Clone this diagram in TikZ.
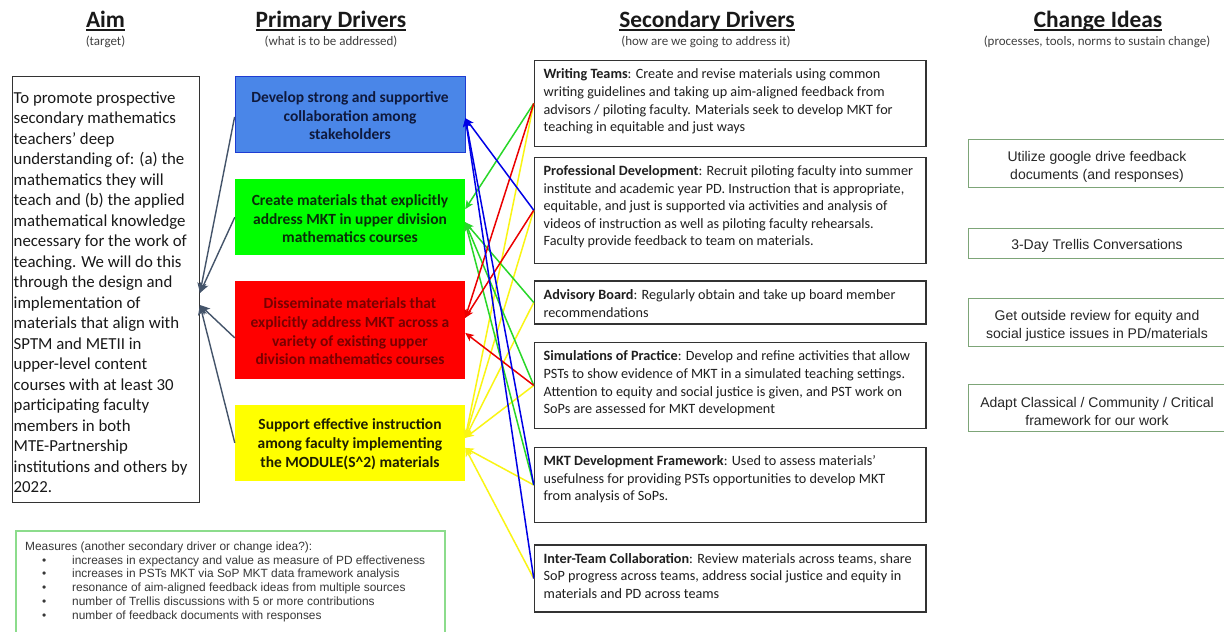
\documentclass[tikz,border=0pt]{standalone}
\usepackage{fontspec}
\setmainfont{Carlito}
\newfontfamily\arialf{Liberation Sans}
\usetikzlibrary{arrows.meta}
\definecolor{slateA}{RGB}{68,84,106}
\definecolor{pblue}{RGB}{74,134,232}
\definecolor{pblueB}{RGB}{30,60,210}
\definecolor{pgreen}{RGB}{0,255,0}
\definecolor{pred}{RGB}{255,0,0}
\definecolor{pyellow}{RGB}{255,255,0}
\definecolor{tblue}{RGB}{15,25,60}
\definecolor{tgreen}{RGB}{10,45,10}
\definecolor{tred}{RGB}{120,0,0}
\definecolor{tyellow}{RGB}{30,30,0}
\definecolor{lnblue}{RGB}{0,0,230}
\definecolor{lngreen}{RGB}{40,215,40}
\definecolor{lnred}{RGB}{235,0,0}
\definecolor{lnyellow}{RGB}{250,245,20}
\definecolor{chgreen}{RGB}{125,165,120}
\definecolor{measgreen}{RGB}{140,220,140}
\newcommand\ulh[1]{\sbox{0}{#1}\rlap{\rule[-3pt]{\wd0}{1.4pt}}\usebox{0}}
\tikzset{
  headT/.style={font=\fontsize{23.4}{28}\selectfont\bfseries, text=black!90, inner sep=0, text height=16pt, text depth=4pt},
  subT/.style={font=\fontsize{13}{15}\selectfont, text=black!75, inner sep=0, text height=10pt, text depth=3pt},
  aimbox/.style={draw=black!80, line width=0.9pt, inner sep=0},
  aimtext/.style={font=\fontsize{16.8}{20.5}\selectfont, align=left, inner sep=0, text=black!90},
  prim/.style={minimum width=230pt, inner sep=0},
  primtext/.style={align=center, inner sep=0, font=\fontsize{15.5}{18.7}\selectfont\bfseries},
  secbox/.style={draw=black!80, line width=1.1pt, minimum width=391.7pt, inner sep=0},
  sectext/.style={font=\fontsize{14.2}{17.6}\selectfont, align=left, inner sep=0, anchor=north west, text=black!88},
  chbox/.style={draw=chgreen, line width=0.9pt, minimum width=258pt, inner sep=0},
  chtext/.style={align=center, inner sep=0, font=\arialf\fontsize{14}{18}\selectfont, text=black!85},
  measbox/.style={draw=measgreen, line width=1.1pt, inner sep=0},
  meastext/.style={font=\arialf\fontsize{11.9}{13.75}\selectfont, align=left, inner sep=0, anchor=north west, text=black!78},
  aimarr/.style={draw=slateA, line width=1.4pt, -{Stealth[length=10pt,width=9pt,inset=2.5pt]}},
  conn/.style={line width=1.5pt, -{Stealth[length=8.5pt,width=7.5pt,inset=2pt]}},
  cb/.style={conn, draw=lnblue},
  cg/.style={conn, draw=lngreen},
  cr/.style={conn, draw=lnred},
  cy/.style={conn, draw=lnyellow},
}
\begin{document}
\begin{tikzpicture}[x=1pt,y=-1pt]
\path[use as bounding box, fill=white] (0,0) rectangle (1224,632);
\clip (0,0) rectangle (1224,632);

% headings
\node[headT] (hAim) at (105.5,21.5) {\ulh{Aim}};
\node[subT] (sAim) at (105.5,42) {(target)};
\node[headT] (hPri) at (331,21.5) {\ulh{Primary Drivers}};
\node[subT] (sPri) at (331,42) {(what is to be addressed)};
\node[headT] (hSec) at (707,21.5) {\ulh{Secondary Drivers}};
\node[subT] (sSec) at (706,42) {(how are we going to address it)};
\node[headT] (hCh) at (1098,21.5) {\ulh{Change Ideas}};
\node[subT] (sCh) at (1097,42) {(processes, tools, norms to sustain change)};

% aim
\node[aimbox, minimum width=187.5pt, minimum height=426pt] (aim) at (105.75,289) {};
\node[aimtext, anchor=west] (aimT) at (13.5,292.5) {To promote prospective\\secondary mathematics\\teachers’ deep\\understanding of: (a) the\\mathematics they will\\teach and (b) the applied\\mathematical knowledge\\necessary for the work of\\teaching. We will do this\\through the design and\\implementation of\\materials that align with\\SPTM and METII in\\upper-level content\\courses with at least 30\\participating faculty\\members in both\\MTE-Partnership\\institutions and others by\\2022.};

% primary drivers
\node[prim, fill=pblue, draw=pblueB, line width=0.8pt, minimum height=76.3pt] (pb) at (350,114.2) {};
\node[primtext, text=tblue] (pbT) at ([yshift=-1.5pt]pb.center) {Develop strong and supportive\\collaboration among\\stakeholders};
\node[prim, fill=pgreen, minimum height=75.7pt] (pg) at (350,217.2) {};
\node[primtext, text=tgreen] (pgT) at ([yshift=-1.5pt]pg.center) {Create materials that explicitly\\address MKT in upper division\\mathematics courses};
\node[prim, fill=pred, minimum height=98.3pt] (pr) at (350,329.9) {};
\node[primtext, text=tred] (prT) at ([yshift=-1.5pt]pr.center) {Disseminate materials that\\explicitly address MKT across a\\variety of existing upper\\division mathematics courses};
\node[prim, fill=pyellow, minimum height=75.7pt] (py) at (350,442.9) {};
\node[primtext, text=tyellow] (pyT) at ([yshift=-1.5pt]py.center) {Support effective instruction\\among faculty implementing\\the MODULE(S\^{}2) materials};

% secondary drivers
\node[secbox, minimum height=85.3pt] (wt) at (730.15,103.4) {};
\node[sectext] (wtT) at ([xshift=9.7pt,yshift=-8.5pt]wt.north west) {\textbf{Writing Teams}: Create and revise materials using common\\writing guidelines and taking up aim-aligned feedback from\\advisors / piloting faculty. Materials seek to develop MKT for\\teaching in equitable and just ways};
\node[secbox, minimum height=105.7pt] (pd) at (730.15,210.2) {};
\node[sectext] (pdT) at ([xshift=9.7pt,yshift=-8.5pt]pd.north west) {\textbf{Professional Development}: Recruit piloting faculty into summer\\institute and academic year PD. Instruction that is appropriate,\\equitable, and just is supported via activities and analysis of\\videos of instruction as well as piloting faculty rehearsals.\\Faculty provide feedback to team on materials.};
\node[secbox, minimum height=43pt] (ab) at (730.15,302.5) {};
\node[sectext] (abT) at ([xshift=9.7pt,yshift=-9pt]ab.north west) {\textbf{Advisory Board}: Regularly obtain and take up board member\\recommendations};
\node[secbox, minimum height=85.3pt] (sim) at (730.15,385.4) {};
\node[sectext] (simT) at ([xshift=9.7pt,yshift=-8.5pt]sim.north west) {\textbf{Simulations of Practice}: Develop and refine activities that allow\\PSTs to show evidence of MKT in a simulated teaching settings.\\Attention to equity and social justice is given, and PST work on\\SoPs are assessed for MKT development};
\node[secbox, minimum height=75.4pt] (mkt) at (730.15,485) {};
\node[sectext] (mktT) at ([xshift=9.7pt,yshift=-8.5pt]mkt.north west) {\textbf{MKT Development Framework}: Used to assess materials’\\usefulness for providing PSTs opportunities to develop MKT\\from analysis of SoPs.};
\node[secbox, minimum height=67pt] (itc) at (730.15,578.5) {};
\node[sectext] (itcT) at ([xshift=9.7pt,yshift=-8.5pt]itc.north west) {\textbf{Inter-Team Collaboration}: Review materials across teams, share\\SoP progress across teams, address social justice and equity in\\materials and PD across teams};

% change ideas
\node[chbox, minimum height=48pt] (c1) at (1097,163) {};
\node[chtext] (c1T) at ([yshift=-4pt]c1.center) {Utilize google drive feedback\\documents (and responses)};
\node[chbox, minimum height=30pt] (c2) at (1097,243) {};
\node[chtext] (c2T) at ([yshift=-3pt]c2.center) {3-Day Trellis Conversations};
\node[chbox, minimum height=48pt] (c3) at (1097,322) {};
\node[chtext] (c3T) at ([yshift=-3.5pt]c3.center) {Get outside review for equity and\\social justice issues in PD/materials};
\node[chbox, minimum height=47pt] (c4) at (1097,407.5) {};
\node[chtext] (c4T) at ([yshift=-3.5pt]c4.center) {Adapt Classical / Community / Critical\\framework for our work};

% measures
\node[measbox, minimum width=429pt, minimum height=112pt] (meas) at (230.5,587) {};
\node[meastext] (measT) at (25,541.5) {Measures (another secondary driver or change idea?):\\
\hspace*{17pt}\makebox[30pt][l]{•}increases in expectancy and value as measure of PD effectiveness\\
\hspace*{17pt}\makebox[30pt][l]{•}increases in PSTs MKT via SoP MKT data framework analysis\\
\hspace*{17pt}\makebox[30pt][l]{•}resonance of aim-aligned feedback ideas from multiple sources\\
\hspace*{17pt}\makebox[30pt][l]{•}number of Trellis discussions with 5 or more contributions\\
\hspace*{17pt}\makebox[30pt][l]{•}number of feedback documents with responses};

% primary -> aim
\draw[aimarr] ([yshift=-2.7pt]pb.west) -- ([yshift=-4pt]aim.east);
\draw[aimarr] (pg.west) -- ([yshift=-4pt]aim.east);
\draw[aimarr] ([yshift=-8pt]pr.west) -- ([yshift=-16pt]aim.east);
\draw[aimarr] (py.west) -- ([yshift=-16pt]aim.east);

% secondary -> primary
\draw[cy] (wt.west) -- ([yshift=5pt]py.east);
\draw[cy] (pd.west) -- ([yshift=5pt]py.east);
\draw[cy] (ab.west) -- ([yshift=5pt]py.east);
\draw[cy] (sim.west) -- ([yshift=5pt]py.east);
\draw[cy] (mkt.west) -- ([yshift=-5pt]py.east);
\draw[cy] (itc.west) -- ([yshift=-5pt]py.east);
\draw[cg] (wt.west) -- ([yshift=8pt]pg.east);
\draw[cg] (ab.west) -- ([yshift=-5pt]pg.east);
\draw[cg] (sim.west) -- ([yshift=-5pt]pg.east);
\draw[cg] (mkt.west) -- ([yshift=-5pt]pg.east);
\draw[cr] (wt.west) -- ([yshift=12pt]pr.east);
\draw[cr] (pd.west) -- ([yshift=12pt]pr.east);
\draw[cr] (sim.west) -- ([yshift=-3pt]pr.east);
\draw[cb] (pd.west) -- ([yshift=-4pt]pb.east);
\draw[cb] (mkt.west) -- ([yshift=-4pt]pb.east);
\draw[cb] (itc.west) -- ([yshift=-4pt]pb.east);
\end{tikzpicture}
\end{document}
